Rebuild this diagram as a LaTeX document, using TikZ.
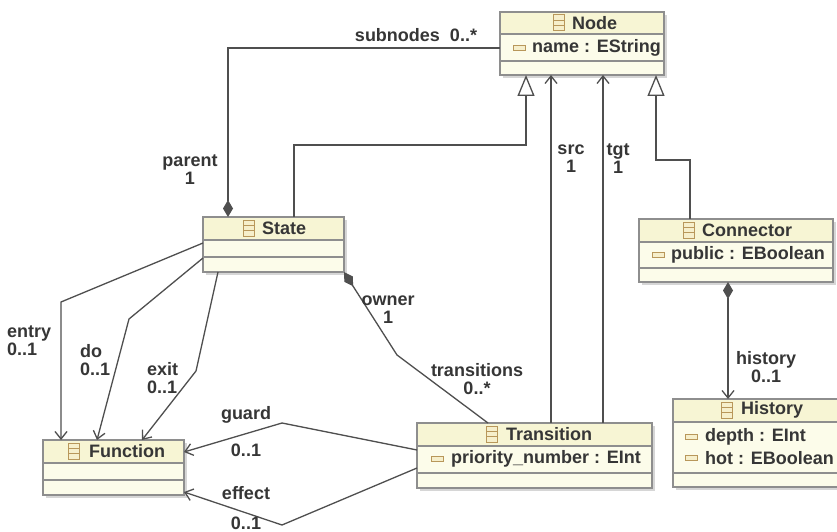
\documentclass[tikz,border=0pt]{standalone}
\usepackage{fontspec}
\setmainfont{Liberation Sans}
\usetikzlibrary{arrows.meta,calc}
\definecolor{bordc}{HTML}{8E8E8E}
\definecolor{headc}{HTML}{F7F5D4}
\definecolor{bodyc}{HTML}{FCFCEA}
\definecolor{linec}{HTML}{4F4F4F}
\definecolor{textc}{HTML}{363636}
\definecolor{iconc}{HTML}{B8975A}
\definecolor{iconf}{HTML}{F6EFCB}
\definecolor{shadc}{HTML}{D6D6D6}
\newcommand\umlbox[6]{%
  \fill[shadc] (#2+3,#3+3) rectangle (#4+3,#5+3);
  \node[fill=bodyc, anchor=north west, minimum width={(#4-#2)*1pt}, minimum height={(#5-#3)*1pt}, inner sep=0pt, outer sep=0pt] (#1) at (#2,#3) {};
  \fill[headc] (#2,#3) rectangle (#4,#6);
  \draw[bordc, line width=1.2pt] (#2,#6) -- (#4,#6);
}
\newcommand\umlborder[1]{\draw[bordc, line width=1.2pt] (#1.north west) rectangle (#1.south east);}
\newcommand\clsicon[2]{%
  \draw[iconc, fill=iconf, line width=1pt] (#1,#2-8) rectangle (#1+11,#2+8);
  \draw[iconc, line width=0.9pt] (#1,#2-2.7) -- (#1+11,#2-2.7) (#1,#2+2.7) -- (#1+11,#2+2.7);}
\newcommand\atticon[2]{\draw[iconc, fill=iconf, line width=1pt] (#1,#2-2.6) rectangle (#1+12,#2+2.6);}
\tikzset{
  txt/.style={font=\bfseries\fontsize{18}{18}\selectfont, text=textc, inner sep=0pt},
  conn/.style={draw=linec, line width=1.3pt},
  barb/.style={-{Straight Barb[length=7.5pt,width=12pt,line width=1.3pt]}},
  gen/.style={-{Triangle[open,length=21pt,width=17pt,fill=white,line width=1.3pt]}},
  dia/.tip={Diamond[length=17pt,width=10pt,fill=linec]},
  lbl/.style={txt, align=center},
  lbll/.style={txt, align=left, anchor=west},
}
\begin{document}
\begin{tikzpicture}[x=1pt,y=-1pt]
\useasboundingbox (0,0) rectangle (837,532);
\fill[white] (0,0) rectangle (837,532);

% ---- classes
\umlbox{Node}{500}{12}{664}{75}{34}
\draw[bordc, line width=1.2pt] (500,61) -- (664,61);
\umlbox{State}{203}{217}{344}{272}{240}
\draw[bordc, line width=1.2pt] (203,257) -- (344,257);
\umlbox{Connector}{639}{219}{833}{282}{242}
\draw[bordc, line width=1.2pt] (639,268) -- (833,268);
\umlbox{Function}{43}{440}{184}{495}{463}
\draw[bordc, line width=1.2pt] (43,480) -- (184,480);
\umlbox{Transition}{417}{423}{652}{488}{446}
\draw[bordc, line width=1.2pt] (417,473) -- (652,473);
\umlbox{History}{673}{399}{840}{487}{422}
\draw[bordc, line width=1.2pt] (673,473) -- (840,473);
\umlborder{Node}\umlborder{State}\umlborder{Connector}
\umlborder{Function}\umlborder{Transition}\umlborder{History}

% ---- titles
\clsicon{553}{23}\node[txt, anchor=west] (Node-t) at (572,23) {Node};
\clsicon{243}{228}\node[txt, anchor=west] (State-t) at (262,228) {State};
\clsicon{683}{230}\node[txt, anchor=west] (Connector-t) at (702,230) {Connector};
\clsicon{68}{451}\node[txt, anchor=west] (Function-t) at (89,451) {Function};
\clsicon{486}{434}\node[txt, anchor=west] (Transition-t) at (506,434) {Transition};
\clsicon{721}{410}\node[txt, anchor=west] (History-t) at (741,410) {History};

% ---- attributes
\atticon{513}{48}\node[txt, anchor=west] (Node-a) at (532,48) {name : EString};
\atticon{652}{255}\node[txt, anchor=west] (Connector-a) at (671,255) {public : EBoolean};
\atticon{431}{459}\node[txt, anchor=west] (Transition-a) at (451,459) {priority\_number : EInt};
\atticon{685}{437}\node[txt, anchor=west] (History-a1) at (705,437) {depth : EInt};
\atticon{685}{458}\node[txt, anchor=west] (History-a2) at (705,458) {hot : EBoolean};

% ---- connector anchor points
\coordinate (subS) at ([xshift=25pt]State.north west);
\coordinate (genS) at ([xshift=91pt]State.north west);
\coordinate (genSN) at ([xshift=26pt]Node.south west);
\coordinate (srcT) at ([xshift=134pt]Transition.north west);
\coordinate (tgtT) at ([xshift=186pt]Transition.north west);
\coordinate (genC) at ([xshift=51pt]Connector.north west);
\coordinate (genCN) at ([xshift=-8pt]Node.south east);
\coordinate (histC) at ([xshift=89pt]Connector.south west);
\coordinate (fE) at ([xshift=18pt]Function.north west);
\coordinate (fD) at ([xshift=54pt]Function.north west);
\coordinate (fX) at ([xshift=99pt]Function.north west);
\coordinate (fG) at ([yshift=-12pt]Function.north east);
\coordinate (fF) at ([yshift=-52pt]Function.north east);
\coordinate (sE) at ([yshift=-26pt]State.north west);
\coordinate (sD) at ([yshift=-41pt]State.north west);
\coordinate (sX) at ([xshift=15pt]State.south west);
\coordinate (tO) at ([xshift=71pt]Transition.north west);
\coordinate (tG) at ([yshift=-27pt]Transition.north west);
\coordinate (tF) at ([yshift=-45pt]Transition.north west);

% ---- connectors
\draw[conn, {dia}-] (subS) |- ([yshift=-36pt]Node.north west);
\draw[conn, gen] (genS) -- ++(0,-72) -| (genSN);
\draw[conn, barb] (srcT) -- (srcT |- Node.south);
\draw[conn, barb] (tgtT) -- (tgtT |- Node.south);
\draw[conn, gen] (genC) -- ++(0,-59) -| (genCN);
\draw[conn, {dia}-{Straight Barb[length=7.5pt,width=12pt,line width=1.3pt]}] (histC) -- (histC |- History.north);
\draw[conn, barb] (sE) -- (61,302) -- (fE);
\draw[conn, barb] (sD) -- (129,319) -- (fD);
\draw[conn, barb] (sX) -- (196,371) -- (fX);
\draw[conn, {dia}-] (State.south east) -- (397,355) -- (tO);
\draw[conn, barb] (tG) -- (282,423) -- (fG);
\draw[conn, barb] (tF) -- (282,525) -- (fF);

% ---- labels
\node[lbl] (l-sub) at (416,35) {subnodes\ \ 0..*};
\node[lbl] (l-par) at (190,170) {parent\\1};
\node[lbl] (l-src) at (571,159) {src\\1};
\node[lbl] (l-tgt) at (618,159) {tgt\\1};
\node[lbl] (l-his) at (766,367) {history\\0..1};
\node[lbll] (l-ent) at (7,341) {entry\\0..1};
\node[lbll] (l-do) at (80,360) {do\\0..1};
\node[lbll] (l-exi) at (147,378) {exit\\0..1};
\node[lbl] (l-own) at (388,310) {owner\\1};
\node[lbl] (l-tra) at (477,379) {transitions\\0..*};
\node[lbl] (l-gua) at (246,415) {guard};
\node[lbl] (l-gm) at (246,450) {0..1};
\node[lbl] (l-eff) at (246,493) {effect};
\node[lbl] (l-em) at (246,523) {0..1};
\end{tikzpicture}
\end{document}
